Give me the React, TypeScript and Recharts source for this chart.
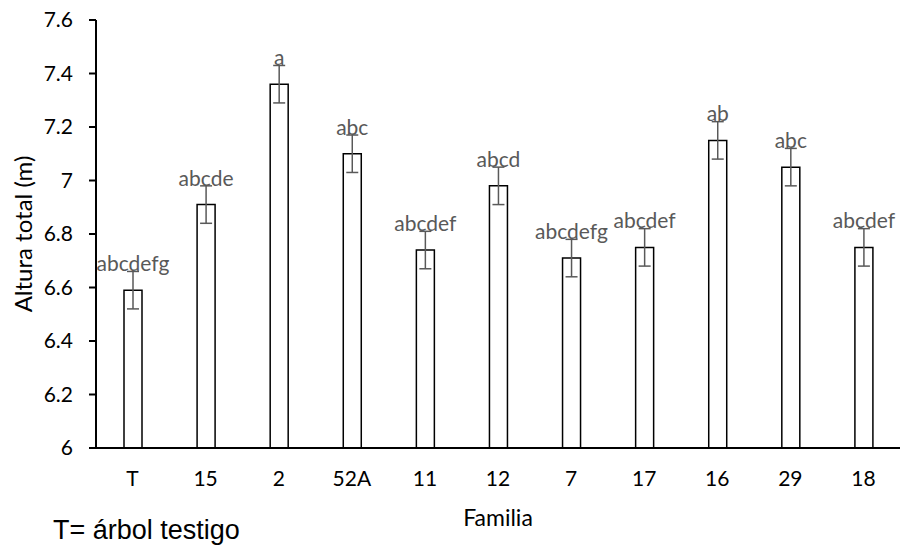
import { BarChart, Bar, XAxis, YAxis, ErrorBar, LabelList } from 'recharts'

const familias = ['T', '15', '2', '52A', '11', '12', '7', '17', '16', '29', '18']
const alturas = [6.59, 6.91, 7.36, 7.1, 6.74, 6.98, 6.71, 6.75, 7.15, 7.05, 6.75]
const errores = [0.07, 0.07, 0.07, 0.07, 0.07, 0.07, 0.07, 0.07, 0.07, 0.07, 0.07]
const letras = ['abcdefg', 'abcde', 'a', 'abc', 'abcdef', 'abcd', 'abcdefg', 'abcdef', 'ab', 'abc', 'abcdef']
const yTicks = [6, 6.2, 6.4, 6.6, 6.8, 7, 7.2, 7.4, 7.6]

const data = familias.map((f, i) => ({
    familia: f,
    altura: alturas[i],
    err: errores[i],
    letra: letras[i],
}))

const font = 'Lato, "Noto Sans", sans-serif'
const gray = '#595959'

export default function App() {
    return (
        <div style={{ position: 'absolute', left: 0, top: 0, width: 901, height: 546, background: '#fff' }}>
            <BarChart
                width={901}
                height={546}
                data={data}
                margin={{ top: 20, right: 1, bottom: 0, left: 0 }}
            >
                <XAxis
                    dataKey="familia"
                    height={98}
                    tickLine={false}
                    tickSize={0}
                    tickMargin={23}
                    axisLine={{ stroke: '#000', strokeWidth: 2 }}
                    tick={{ fill: '#000', fontSize: 21, fontFamily: font }}
                    label={{ value: 'Familia', position: 'center', dy: 21, fill: '#000', fontSize: 23, fontFamily: font }}
                />
                <YAxis
                    width={96}
                    domain={[6, 7.6]}
                    ticks={yTicks}
                    interval={0}
                    tickSize={7}
                    tickMargin={16}
                    axisLine={{ stroke: '#000', strokeWidth: 2 }}
                    tickLine={{ stroke: '#000', strokeWidth: 2 }}
                    tick={{ fill: '#000', fontSize: 21, fontFamily: font }}
                    label={{ value: 'Altura total (m)', angle: -90, position: 'center', dx: -25, fill: '#000', fontSize: 24, fontFamily: font }}
                />
                <Bar dataKey="altura" fill="#fff" stroke="#000" strokeWidth={1.5} barSize={18} isAnimationActive={false}>
                    <ErrorBar dataKey="err" width={6} stroke={gray} strokeWidth={1.5} direction="y" />
                    <LabelList dataKey="letra" position="top" offset={19} fill={gray} fontSize={21} fontFamily={font} />
                </Bar>
            </BarChart>
            <div
                style={{
                    position: 'absolute',
                    left: 53,
                    top: 517,
                    fontFamily: '"Liberation Sans", Arial, sans-serif',
                    fontSize: 27,
                    lineHeight: '27px',
                    color: '#000',
                    whiteSpace: 'nowrap',
                }}
            >
                T= árbol testigo
            </div>
        </div>
    )
}
